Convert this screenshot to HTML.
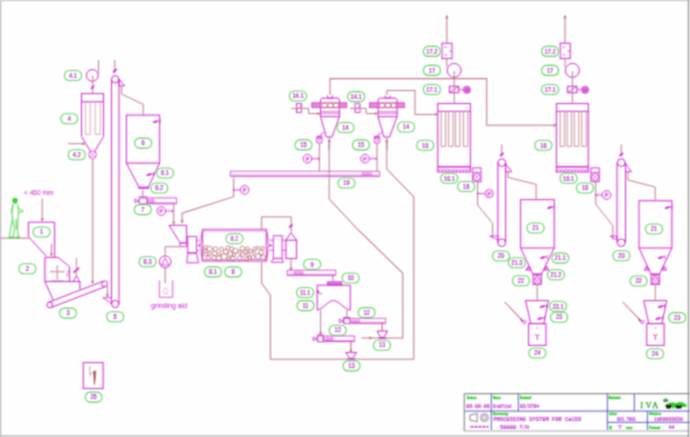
<!DOCTYPE html>
<html><head><meta charset="utf-8"><style>
html,body{margin:0;padding:0;background:#fff;}
svg{display:block;}
</style></head><body>
<svg width="690" height="437" viewBox="0 0 690 437">
<defs><filter id="bl" x="0" y="0" width="690" height="437" filterUnits="userSpaceOnUse"><feConvolveMatrix order="3" kernelMatrix="1 2 1 2 4 2 1 2 1" divisor="16" edgeMode="none"/></filter></defs>
<rect x="0" y="0" width="690" height="437" fill="#fefefe"/>
<g filter="url(#bl)">
<line x1="0.5" y1="0" x2="0.5" y2="437" stroke="#a8a8a8" stroke-width="1.2"/>
<line x1="0" y1="0.5" x2="690" y2="0.5" stroke="#b8b8b8" stroke-width="1.2"/>
<line x1="0" y1="436" x2="690" y2="436" stroke="#989898" stroke-width="1.1"/>
<line x1="688.5" y1="0" x2="688.5" y2="437" stroke="#8a8a8a" stroke-width="1.2"/>
<circle cx="92.3" cy="75.4" r="5.9" stroke="#d020d0" stroke-width="1" fill="none"/>
<line x1="98.5" y1="60.1" x2="98.5" y2="73" stroke="#c07888" stroke-width="1"/>
<line x1="92.8" y1="75.6" x2="92.8" y2="93.6" stroke="#c07888" stroke-width="1"/>
<path d="M91.2 89 l2.8 -3.5" stroke="#d020d0" stroke-width="1.6"/>
<rect x="81.5" y="93.6" width="22" height="8.2" stroke="#d020d0" stroke-width="1" fill="none"/>
<line x1="81.5" y1="101.8" x2="81.5" y2="136.5" stroke="#d020d0" stroke-width="1"/>
<line x1="103.5" y1="101.8" x2="103.5" y2="136.5" stroke="#d020d0" stroke-width="1"/>
<line x1="85.6" y1="101.5" x2="85.6" y2="134.4" stroke="#c07888" stroke-width="0.6"/>
<line x1="90.2" y1="101.5" x2="90.2" y2="134.4" stroke="#c07888" stroke-width="0.6"/>
<line x1="95.2" y1="101.5" x2="95.2" y2="134.4" stroke="#c07888" stroke-width="0.6"/>
<line x1="100.3" y1="101.5" x2="100.3" y2="134.4" stroke="#c07888" stroke-width="0.6"/>
<line x1="85.6" y1="134.4" x2="90.2" y2="134.4" stroke="#c07888" stroke-width="0.6"/>
<line x1="95.2" y1="134.4" x2="100.3" y2="134.4" stroke="#c07888" stroke-width="0.6"/>
<polyline points="81.5,136.5 90.6,151.5" stroke="#d020d0" stroke-width="1" fill="none"/>
<polyline points="103.5,136.5 94.6,151.5" stroke="#d020d0" stroke-width="1" fill="none"/>
<line x1="68.2" y1="143.7" x2="84.5" y2="143.7" stroke="#c07888" stroke-width="1"/>
<polygon points="82.5,142.5 82.5,144.89999999999998 85,143.7" stroke="#c07888" stroke-width="0.6" fill="#c07888"/>
<circle cx="92.6" cy="154.6" r="3.8" stroke="#d020d0" stroke-width="0.8" fill="none"/>
<line x1="89.86399999999999" y1="151.864" x2="95.336" y2="157.33599999999998" stroke="#d020d0" stroke-width="0.55"/>
<line x1="89.86399999999999" y1="157.33599999999998" x2="95.336" y2="151.864" stroke="#d020d0" stroke-width="0.55"/>
<line x1="92.7" y1="158.5" x2="92.7" y2="283.5" stroke="#c07888" stroke-width="1.05"/>
<polygon points="91.5,281.0 93.9,281.0 92.7,283.5" stroke="#c07888" stroke-width="0.6" fill="#c07888"/>
<rect x="64.50" y="70.50" width="17" height="10" rx="4.8" ry="4.8" stroke="#60d060" stroke-width="1.1" fill="none"/>
<text x="73" y="77.80" font-size="6.4" fill="#a018b0" stroke="#a018b0" stroke-width="0.14" text-anchor="middle" font-family="Liberation Sans" transform="translate(73 0) scale(0.9 1) translate(-73 0)">4.1</text>
<rect x="60.80" y="113.80" width="17" height="10" rx="4.8" ry="4.8" stroke="#60d060" stroke-width="1.1" fill="none"/>
<text x="69.3" y="121.10" font-size="6.4" fill="#a018b0" stroke="#a018b0" stroke-width="0.14" text-anchor="middle" font-family="Liberation Sans" transform="translate(69.3 0) scale(0.9 1) translate(-69.3 0)">4</text>
<rect x="68.30" y="149.80" width="17" height="10" rx="4.8" ry="4.8" stroke="#60d060" stroke-width="1.1" fill="none"/>
<text x="76.8" y="157.10" font-size="6.4" fill="#a018b0" stroke="#a018b0" stroke-width="0.14" text-anchor="middle" font-family="Liberation Sans" transform="translate(76.8 0) scale(0.9 1) translate(-76.8 0)">4.2</text>
<line x1="111.5" y1="79.3" x2="111.5" y2="304" stroke="#d020d0" stroke-width="1"/>
<line x1="119" y1="79.3" x2="119" y2="304" stroke="#d020d0" stroke-width="1"/>
<circle cx="115.2" cy="79.3" r="3.7" stroke="#d020d0" stroke-width="1" fill="none"/>
<circle cx="115.2" cy="304" r="3.6" stroke="#d020d0" stroke-width="1" fill="none"/>
<line x1="114.8" y1="60" x2="114.8" y2="73" stroke="#c07888" stroke-width="1"/>
<path d="M113.2 72.4 l3.4 -3.4" stroke="#d020d0" stroke-width="1.8"/>
<polygon points="119,79 124.7,85.9 119,85.9" stroke="#d020d0" stroke-width="0.9" fill="none"/>
<polyline points="121.6,85.9 121.6,94.1 143.2,104.4 143.2,114.7" stroke="#c07888" stroke-width="1" fill="none"/>
<polyline points="102.8,297.6 111.5,297.6" stroke="#d020d0" stroke-width="0.8" fill="none"/>
<line x1="102.8" y1="297.6" x2="111.5" y2="304" stroke="#d020d0" stroke-width="0.8"/>
<line x1="107.4" y1="285.5" x2="107.4" y2="297" stroke="#c07888" stroke-width="1"/>
<polygon points="106.2,294.5 108.60000000000001,294.5 107.4,297" stroke="#c07888" stroke-width="0.6" fill="#c07888"/>
<rect x="106.70" y="311.80" width="17" height="10" rx="4.8" ry="4.8" stroke="#60d060" stroke-width="1.1" fill="none"/>
<text x="115.2" y="319.10" font-size="6.4" fill="#a018b0" stroke="#a018b0" stroke-width="0.14" text-anchor="middle" font-family="Liberation Sans" transform="translate(115.2 0) scale(0.9 1) translate(-115.2 0)">5</text>
<rect x="126.4" y="115.1" width="33.2" height="48" stroke="#d020d0" stroke-width="1" fill="none"/>
<polyline points="126.4,163.1 139.3,187.8 148,187.8 159.6,163.1" stroke="#d020d0" stroke-width="1" fill="none"/>
<path d="M154 122.19999999999999 L157 121.19999999999999" stroke="#d020d0" stroke-width="1.9" stroke-linecap="round"/>
<path d="M157 121.19999999999999 H160 M160 119.0 V123.39999999999999" stroke="#d020d0" stroke-width="0.7" fill="none"/>
<path d="M147.5 175.1 L150.5 174.1" stroke="#d020d0" stroke-width="1.9" stroke-linecap="round"/>
<path d="M150.5 174.1 H153.5 M153.5 171.9 V176.3" stroke="#d020d0" stroke-width="0.7" fill="none"/>
<rect x="138.8" y="187" width="10" height="1.4" stroke="#d020d0" stroke-width="0.7" fill="none"/>
<line x1="142.8" y1="189.4" x2="142.8" y2="198.7" stroke="#c07888" stroke-width="1"/>
<rect x="134.70" y="138.10" width="17" height="10" rx="4.8" ry="4.8" stroke="#60d060" stroke-width="1.1" fill="none"/>
<text x="143.2" y="145.40" font-size="6.4" fill="#a018b0" stroke="#a018b0" stroke-width="0.14" text-anchor="middle" font-family="Liberation Sans" transform="translate(143.2 0) scale(0.9 1) translate(-143.2 0)">6</text>
<rect x="156.50" y="168.00" width="17" height="10" rx="4.8" ry="4.8" stroke="#60d060" stroke-width="1.1" fill="none"/>
<text x="165" y="175.30" font-size="6.4" fill="#a018b0" stroke="#a018b0" stroke-width="0.14" text-anchor="middle" font-family="Liberation Sans" transform="translate(165 0) scale(0.9 1) translate(-165 0)">6.1</text>
<rect x="150.80" y="183.00" width="17" height="10" rx="4.8" ry="4.8" stroke="#60d060" stroke-width="1.1" fill="none"/>
<text x="159.3" y="190.30" font-size="6.4" fill="#a018b0" stroke="#a018b0" stroke-width="0.14" text-anchor="middle" font-family="Liberation Sans" transform="translate(159.3 0) scale(0.9 1) translate(-159.3 0)">6.2</text>
<rect x="139.4" y="198" width="37.0" height="5.900000000000006" stroke="#d020d0" stroke-width="0.9" fill="#fefefe"/>
<rect x="139.4" y="197" width="7.3" height="6.900000000000006" stroke="#d020d0" stroke-width="0.9" fill="none"/>
<path d="M146.7 203.1 L148.0 199 L149.3 203.1 L150.6 199 L151.9 203.1 L153.2 199 L154.5 203.1" stroke="#d020d0" stroke-width="0.6" fill="none"/>
<line x1="147.70000000000002" y1="202.70000000000002" x2="175.4" y2="202.70000000000002" stroke="#d020d0" stroke-width="0.6"/>
<polygon points="134.9,199.14999999999998 138.9,200.95 134.9,202.75" stroke="#d020d0" stroke-width="0.8" fill="none"/>
<line x1="173.7" y1="204.3" x2="173.7" y2="224.4" stroke="#c07888" stroke-width="1"/>
<polygon points="172.5,221.9 174.89999999999998,221.9 173.7,224.4" stroke="#c07888" stroke-width="0.6" fill="#c07888"/>
<circle cx="161.3" cy="211" r="4.3" stroke="#d020d0" stroke-width="0.9" fill="none"/>
<text x="161.3" y="213.10" font-size="6" fill="#d020d0" stroke="#d020d0" stroke-width="0.2" text-anchor="middle" font-family="Liberation Sans">P</text>
<line x1="165.60000000000002" y1="211" x2="172.60000000000002" y2="211" stroke="#d020d0" stroke-width="0.8"/>
<line x1="172.60000000000002" y1="209.5" x2="172.60000000000002" y2="212.5" stroke="#d020d0" stroke-width="0.8"/>
<rect x="134.30" y="204.60" width="17" height="10" rx="4.8" ry="4.8" stroke="#60d060" stroke-width="1.1" fill="none"/>
<text x="142.8" y="211.90" font-size="6.4" fill="#a018b0" stroke="#a018b0" stroke-width="0.14" text-anchor="middle" font-family="Liberation Sans" transform="translate(142.8 0) scale(0.9 1) translate(-142.8 0)">7</text>
<polyline points="28.4,236.6 28.4,222.2 54.6,222.2 54.6,257.3" stroke="#d020d0" stroke-width="1" fill="none"/>
<polyline points="28.4,236.6 46.3,256.2" stroke="#d020d0" stroke-width="1" fill="none"/>
<line x1="42.2" y1="198.5" x2="42.2" y2="221" stroke="#c07888" stroke-width="1"/>
<polygon points="41.0,218.5 43.400000000000006,218.5 42.2,221" stroke="#c07888" stroke-width="0.6" fill="#c07888"/>
<text x="24" y="194.6" font-size="6.4" fill="#d020d0" text-anchor="start" font-family="Liberation Sans" textLength="29.5" lengthAdjust="spacingAndGlyphs">&lt; 460 mm</text>
<line x1="0" y1="238.1" x2="29.9" y2="238.1" stroke="#c07888" stroke-width="1.05"/>
<line x1="51.5" y1="243.8" x2="51.5" y2="256.2" stroke="#c07888" stroke-width="1"/>
<polygon points="50.3,253.7 52.7,253.7 51.5,256.2" stroke="#c07888" stroke-width="0.6" fill="#c07888"/>
<rect x="33.10" y="227.00" width="17" height="10" rx="4.8" ry="4.8" stroke="#60d060" stroke-width="1.1" fill="none"/>
<text x="41.6" y="234.30" font-size="6.4" fill="#a018b0" stroke="#a018b0" stroke-width="0.14" text-anchor="middle" font-family="Liberation Sans" transform="translate(41.6 0) scale(0.9 1) translate(-41.6 0)">1</text>
<polyline points="44.9,281.5 44.9,257.4 58.2,257.4 69.5,266.8 69.5,281.5" stroke="#d020d0" stroke-width="1" fill="none"/>
<line x1="44.9" y1="281.5" x2="79.9" y2="281.5" stroke="#d020d0" stroke-width="1"/>
<line x1="79.9" y1="281.5" x2="79.9" y2="289.4" stroke="#d020d0" stroke-width="1"/>
<line x1="44.9" y1="281.5" x2="53.4" y2="300.3" stroke="#d020d0" stroke-width="1"/>
<line x1="50.8" y1="271.7" x2="63.6" y2="271.7" stroke="#c07888" stroke-width="0.9"/>
<line x1="57.2" y1="266.3" x2="57.2" y2="278.6" stroke="#c07888" stroke-width="0.9"/>
<path d="M50.8 270.5 v2.4 M63.6 270.5 v2.4 M56 266.3 h2.4 M56 278.6 h2.4" stroke="#c07888" stroke-width="0.6"/>
<path d="M68.4 270.5 q-1.2 3 -1.4 6" stroke="#d020d0" stroke-width="0.7" fill="none"/>
<path d="M50 281 q7 -1.5 14 0" stroke="#c07888" stroke-width="0.6" fill="none"/>
<polyline points="73.3,281.5 76.4,275.6 79.6,281.5" stroke="#d020d0" stroke-width="0.9" fill="none"/>
<line x1="76.4" y1="257.9" x2="76.4" y2="275.6" stroke="#c07888" stroke-width="0.9"/>
<path d="M73.6 272.6 l5.6 -5" stroke="#d020d0" stroke-width="1.5"/>
<rect x="18.90" y="263.80" width="17" height="10" rx="4.8" ry="4.8" stroke="#60d060" stroke-width="1.1" fill="none"/>
<text x="27.4" y="271.10" font-size="6.4" fill="#a018b0" stroke="#a018b0" stroke-width="0.14" text-anchor="middle" font-family="Liberation Sans" transform="translate(27.4 0) scale(0.9 1) translate(-27.4 0)">2</text>
<circle cx="49.8" cy="304.9" r="2.9" stroke="#d020d0" stroke-width="1" fill="none"/>
<circle cx="104.6" cy="283.8" r="2.9" stroke="#d020d0" stroke-width="1" fill="none"/>
<line x1="50.84203205935858" y1="307.6063202299929" x2="105.64203205935858" y2="286.5063202299929" stroke="#d020d0" stroke-width="1"/>
<line x1="48.757967940641414" y1="302.19367977000707" x2="103.5579679406414" y2="281.0936797700071" stroke="#d020d0" stroke-width="1"/>
<rect x="59.50" y="308.10" width="17" height="10" rx="4.8" ry="4.8" stroke="#60d060" stroke-width="1.1" fill="none"/>
<text x="68" y="315.40" font-size="6.4" fill="#a018b0" stroke="#a018b0" stroke-width="0.14" text-anchor="middle" font-family="Liberation Sans" transform="translate(68 0) scale(0.9 1) translate(-68 0)">3</text>
<ellipse cx="15" cy="200.8" rx="2.4" ry="2.7" fill="#40d040" stroke="#40d040" stroke-width="0.6"/>
<path d="M12.6 199.3 h5" stroke="#40d040" stroke-width="1.2"/>
<path d="M13 204 L12 211 L12.5 219 L10.5 229 L9.5 237.5 M17.5 204 L18.6 210 L18 219 L17.5 229 L18.5 237.5 M12.5 219 L14.5 229 L13.2 237.5 M16 219 L16.2 229 M13 205 L11 213 M17.5 207.5 L21.5 210 L23.3 211.4 L18.6 212.5" stroke="#40d040" stroke-width="0.9" fill="none"/>
<path d="M8.5 237.6 h5.5 M15 237.6 h5" stroke="#40d040" stroke-width="1.5"/>
<rect x="83.3" y="362.6" width="19.8" height="26" stroke="#d020d0" stroke-width="1" fill="none"/>
<path d="M89.9 366 V375 L94.5 371" stroke="#c07888" stroke-width="0.7" fill="none"/>
<path d="M93.6 371.5 L95.8 371 L95.3 378 L94.6 384.5 L94.2 384.5 Z" fill="#a84848" stroke="#b05050" stroke-width="0.5"/>
<rect x="85.30" y="392.10" width="16.6" height="10" rx="4.8" ry="4.8" stroke="#60d060" stroke-width="1.1" fill="none"/>
<text x="93.6" y="399.40" font-size="6.4" fill="#a018b0" stroke="#a018b0" stroke-width="0.14" text-anchor="middle" font-family="Liberation Sans" transform="translate(93.6 0) scale(0.9 1) translate(-93.6 0)">25</text>
<polyline points="169,225.3 186.6,225.3 186.6,243 180.3,243 169,225.3" stroke="#d020d0" stroke-width="1" fill="none"/>
<rect x="180" y="243" width="6.6" height="3.7" stroke="#d020d0" stroke-width="0.8" fill="none"/>
<polygon points="180.9,220.5 183.29999999999998,220.5 182.1,223" stroke="#c07888" stroke-width="0.6" fill="#c07888"/>
<circle cx="165.2" cy="261.8" r="5.8" stroke="#d020d0" stroke-width="1" fill="none"/>
<polygon points="161.5,265 165.2,258 168.9,265" stroke="#d020d0" stroke-width="0.8" fill="none"/>
<polyline points="165.2,256.6 165.2,246.7 180,246.7" stroke="#c07888" stroke-width="1" fill="none"/>
<line x1="165.2" y1="267.2" x2="165.2" y2="283" stroke="#c07888" stroke-width="1.1"/>
<polyline points="159.4,280.3 159.4,297.3 172.6,297.3 172.6,280.3" stroke="#d020d0" stroke-width="0.7" fill="none"/>
<path d="M164 288.5 h3 M162 291 h2.5 M166 291 h2.5 M163.5 293.7 h4.5" stroke="#c07888" stroke-width="0.6"/>
<text x="151" y="307.5" font-size="6.6" fill="#d020d0" text-anchor="start" font-family="Liberation Sans" textLength="36" lengthAdjust="spacingAndGlyphs">grinding aid</text>
<rect x="139.10" y="256.80" width="17" height="10" rx="4.8" ry="4.8" stroke="#60d060" stroke-width="1.1" fill="none"/>
<text x="147.6" y="264.10" font-size="6.4" fill="#a018b0" stroke="#a018b0" stroke-width="0.14" text-anchor="middle" font-family="Liberation Sans" transform="translate(147.6 0) scale(0.9 1) translate(-147.6 0)">8.3</text>
<rect x="187.8" y="236.4" width="8.7" height="16.6" stroke="#d020d0" stroke-width="0.9" fill="none"/>
<polygon points="187.8,253 196.5,253 198.5,262.8 186.8,262.8" stroke="#d020d0" stroke-width="0.9" fill="none"/>
<line x1="196.5" y1="240.2" x2="199.5" y2="240.2" stroke="#d020d0" stroke-width="0.8"/>
<line x1="196.5" y1="250.3" x2="199.5" y2="250.3" stroke="#d020d0" stroke-width="0.8"/>
<path d="M202.7 229.3 H266.3 Q270.3 245.2 266.3 261.2 H202.7 Q198.7 245.2 202.7 229.3 Z" stroke="#d020d0" stroke-width="0.9" fill="#fefefe"/>
<line x1="202.7" y1="229.3" x2="202.7" y2="261.2" stroke="#d020d0" stroke-width="1.1"/>
<line x1="266.3" y1="229.3" x2="266.3" y2="261.2" stroke="#d020d0" stroke-width="1.1"/>
<line x1="203" y1="231" x2="266" y2="231" stroke="#d020d0" stroke-width="0.6"/>
<line x1="203" y1="259.8" x2="266" y2="259.8" stroke="#d020d0" stroke-width="0.6"/>
<line x1="198" y1="245.4" x2="200.5" y2="245.4" stroke="#d020d0" stroke-width="1.5"/>
<line x1="269" y1="245.4" x2="272" y2="245.4" stroke="#d020d0" stroke-width="1.5"/>
<circle cx="261.2" cy="252.3" r="2.3" stroke="#b86470" stroke-width="0.85" fill="none"/>
<circle cx="209.5" cy="254.0" r="1.7" stroke="#b86470" stroke-width="0.85" fill="none"/>
<circle cx="239.8" cy="258.2" r="2.3" stroke="#b86470" stroke-width="0.85" fill="none"/>
<circle cx="219.5" cy="254.1" r="1.7" stroke="#b86470" stroke-width="0.85" fill="none"/>
<circle cx="254.5" cy="248.8" r="1.7" stroke="#b86470" stroke-width="0.85" fill="none"/>
<circle cx="242.7" cy="254.5" r="2.0" stroke="#b86470" stroke-width="0.85" fill="none"/>
<circle cx="239.6" cy="252.2" r="1.7" stroke="#b86470" stroke-width="0.85" fill="none"/>
<circle cx="208.2" cy="257.8" r="2.0" stroke="#b86470" stroke-width="0.85" fill="none"/>
<circle cx="230.3" cy="254.0" r="2.3" stroke="#b86470" stroke-width="0.85" fill="none"/>
<circle cx="224.1" cy="256.7" r="3.0" stroke="#b86470" stroke-width="0.85" fill="none"/>
<circle cx="233.0" cy="258.3" r="2.3" stroke="#b86470" stroke-width="0.85" fill="none"/>
<circle cx="214.7" cy="253.4" r="2.3" stroke="#b86470" stroke-width="0.85" fill="none"/>
<circle cx="262.5" cy="248.2" r="1.7" stroke="#b86470" stroke-width="0.85" fill="none"/>
<circle cx="225.7" cy="251.8" r="2.3" stroke="#b86470" stroke-width="0.85" fill="none"/>
<circle cx="215.6" cy="249.1" r="2.3" stroke="#b86470" stroke-width="0.85" fill="none"/>
<circle cx="234.1" cy="254.6" r="1.7" stroke="#b86470" stroke-width="0.85" fill="none"/>
<circle cx="258.1" cy="256.5" r="2.6" stroke="#b86470" stroke-width="0.85" fill="none"/>
<circle cx="209.7" cy="248.8" r="2.6" stroke="#b86470" stroke-width="0.85" fill="none"/>
<circle cx="231.5" cy="248.8" r="2.0" stroke="#b86470" stroke-width="0.85" fill="none"/>
<circle cx="250.4" cy="251.0" r="1.7" stroke="#b86470" stroke-width="0.85" fill="none"/>
<circle cx="253.1" cy="257.3" r="2.0" stroke="#b86470" stroke-width="0.85" fill="none"/>
<circle cx="246.4" cy="259.0" r="2.0" stroke="#b86470" stroke-width="0.85" fill="none"/>
<circle cx="257.8" cy="247.9" r="1.7" stroke="#b86470" stroke-width="0.85" fill="none"/>
<circle cx="235.4" cy="250.8" r="2.6" stroke="#b86470" stroke-width="0.85" fill="none"/>
<circle cx="214.1" cy="257.9" r="2.3" stroke="#b86470" stroke-width="0.85" fill="none"/>
<circle cx="218.8" cy="258.4" r="2.6" stroke="#b86470" stroke-width="0.85" fill="none"/>
<circle cx="221.5" cy="249.1" r="2.0" stroke="#b86470" stroke-width="0.85" fill="none"/>
<circle cx="242.1" cy="248.3" r="2.3" stroke="#b86470" stroke-width="0.85" fill="none"/>
<circle cx="263.1" cy="257.3" r="2.3" stroke="#b86470" stroke-width="0.85" fill="none"/>
<circle cx="228.5" cy="258.9" r="1.7" stroke="#b86470" stroke-width="0.85" fill="none"/>
<circle cx="248.2" cy="254.7" r="1.7" stroke="#b86470" stroke-width="0.85" fill="none"/>
<circle cx="254.0" cy="252.4" r="1.7" stroke="#b86470" stroke-width="0.85" fill="none"/>
<circle cx="205.9" cy="254.1" r="1.7" stroke="#b86470" stroke-width="0.85" fill="none"/>
<circle cx="205.9" cy="247.4" r="1.7" stroke="#b86470" stroke-width="0.85" fill="none"/>
<circle cx="227.8" cy="247.8" r="2.0" stroke="#b86470" stroke-width="0.85" fill="none"/>
<circle cx="247.3" cy="248.3" r="1.7" stroke="#b86470" stroke-width="0.85" fill="none"/>
<circle cx="245.8" cy="251.8" r="1.7" stroke="#b86470" stroke-width="0.85" fill="none"/>
<circle cx="249.5" cy="257.5" r="1.7" stroke="#b86470" stroke-width="0.85" fill="none"/>
<circle cx="205.5" cy="250.5" r="1.7" stroke="#b86470" stroke-width="0.85" fill="none"/>
<rect x="273.3" y="235.8" width="8.8" height="22.7" stroke="#d020d0" stroke-width="0.9" fill="none"/>
<polygon points="273.3,258.5 282.1,258.5 283.3,262.3 271.4,262.3" stroke="#d020d0" stroke-width="0.9" fill="none"/>
<line x1="269.5" y1="240.2" x2="273.3" y2="240.2" stroke="#d020d0" stroke-width="0.8"/>
<line x1="269.5" y1="250.3" x2="273.3" y2="250.3" stroke="#d020d0" stroke-width="0.8"/>
<line x1="282.1" y1="240.2" x2="285.9" y2="240.2" stroke="#d020d0" stroke-width="0.8"/>
<line x1="282.1" y1="250.3" x2="285.9" y2="250.3" stroke="#d020d0" stroke-width="0.8"/>
<rect x="226.00" y="233.60" width="17" height="10" rx="4.8" ry="4.8" stroke="#60d060" stroke-width="1.1" fill="none"/>
<text x="234.5" y="240.90" font-size="6.4" fill="#a018b0" stroke="#a018b0" stroke-width="0.14" text-anchor="middle" font-family="Liberation Sans" transform="translate(234.5 0) scale(0.9 1) translate(-234.5 0)">8.2</text>
<rect x="204.50" y="266.90" width="17" height="10" rx="4.8" ry="4.8" stroke="#60d060" stroke-width="1.1" fill="none"/>
<text x="213" y="274.20" font-size="6.4" fill="#a018b0" stroke="#a018b0" stroke-width="0.14" text-anchor="middle" font-family="Liberation Sans" transform="translate(213 0) scale(0.9 1) translate(-213 0)">8.1</text>
<rect x="224.70" y="266.90" width="17" height="10" rx="4.8" ry="4.8" stroke="#60d060" stroke-width="1.1" fill="none"/>
<text x="233.2" y="274.20" font-size="6.4" fill="#a018b0" stroke="#a018b0" stroke-width="0.14" text-anchor="middle" font-family="Liberation Sans" transform="translate(233.2 0) scale(0.9 1) translate(-233.2 0)">8</text>
<polyline points="285.9,240.2 290.9,232.7 296.6,240.2" stroke="#d020d0" stroke-width="1" fill="none"/>
<rect x="285.9" y="240.2" width="10.7" height="18.3" stroke="#d020d0" stroke-width="1" fill="none"/>
<polyline points="261.6,229 261.6,216.9 291.2,216.9 291.2,232" stroke="#c07888" stroke-width="1" fill="none"/>
<line x1="261.6" y1="262" x2="261.6" y2="283" stroke="#c07888" stroke-width="1"/>
<path d="M289.2 227.6 l3.4 -3.2" stroke="#d020d0" stroke-width="1.7"/>
<line x1="291" y1="258" x2="291" y2="270" stroke="#c07888" stroke-width="1"/>
<polygon points="289.8,267.7 292.2,267.7 291,270.2" stroke="#c07888" stroke-width="0.6" fill="#c07888"/>
<polyline points="261.6,283 270.4,295.3 270.4,359.3 413.8,359.3 413.8,197 386.8,169" stroke="#c07888" stroke-width="1.05" fill="none"/>
<rect x="230.5" y="171.4" width="149.0" height="4.900000000000006" stroke="#d020d0" stroke-width="0.9" fill="#fefefe"/>
<path d="M361.7 175.5 L363.0 172.4 L364.3 175.5 L365.6 172.4 L366.9 175.5 L368.2 172.4 L369.5 175.5 L370.8 172.4 L372.1 175.5" stroke="#d020d0" stroke-width="0.6" fill="none"/>
<line x1="231.5" y1="175.10000000000002" x2="378.5" y2="175.10000000000002" stroke="#d020d0" stroke-width="0.6"/>
<polyline points="233.6,177.5 233.6,196.7 182.1,213.2 182.1,222.8" stroke="#c07888" stroke-width="1.05" fill="none"/>
<circle cx="244.6" cy="189.9" r="4.3" stroke="#d020d0" stroke-width="0.9" fill="none"/>
<text x="244.6" y="192.00" font-size="6" fill="#d020d0" stroke="#d020d0" stroke-width="0.2" text-anchor="middle" font-family="Liberation Sans">P</text>
<line x1="240.29999999999998" y1="189.9" x2="233.79999999999998" y2="189.9" stroke="#d020d0" stroke-width="0.8"/>
<line x1="233.79999999999998" y1="188.4" x2="233.79999999999998" y2="191.4" stroke="#d020d0" stroke-width="0.8"/>
<rect x="338.00" y="178.00" width="17" height="10" rx="4.8" ry="4.8" stroke="#60d060" stroke-width="1.1" fill="none"/>
<text x="346.5" y="185.30" font-size="6.4" fill="#a018b0" stroke="#a018b0" stroke-width="0.14" text-anchor="middle" font-family="Liberation Sans" transform="translate(346.5 0) scale(0.9 1) translate(-346.5 0)">19</text>
<path d="M327.5 95.2 v2.9 M332.5 95.2 v2.9 M327.5 98.1 h5" stroke="#d020d0" stroke-width="0.8" fill="none"/>
<path d="M320.5 116.6 V100 L322 98.1 H338 L339.5 100 V116.6 Z" stroke="#d020d0" stroke-width="1" fill="none"/>
<line x1="320.5" y1="111.8" x2="339.5" y2="111.8" stroke="#d020d0" stroke-width="0.8"/>
<line x1="320.5" y1="113.6" x2="339.5" y2="113.6" stroke="#d020d0" stroke-width="0.6"/>
<rect x="312" y="102.9" width="34.7" height="4.7" stroke="#d020d0" stroke-width="0.9" fill="none"/>
<rect x="312" y="102.9" width="8.5" height="4.7" stroke="#d040c8" stroke-width="0.6" fill="#e488d8"/>
<rect x="339.3" y="102.9" width="7.4" height="4.7" stroke="#d040c8" stroke-width="0.6" fill="#e488d8"/>
<circle cx="324.5" cy="105.3" r="2.6" stroke="#c87070" stroke-width="0.9" fill="none"/>
<circle cx="330.5" cy="105.3" r="2.6" stroke="#c87070" stroke-width="0.9" fill="none"/>
<circle cx="336" cy="105.3" r="2.6" stroke="#c87070" stroke-width="0.9" fill="none"/>
<polyline points="320.5,116.6 326.3,137 332,137 339.5,116.6" stroke="#d020d0" stroke-width="1" fill="none"/>
<line x1="329.2" y1="137" x2="329.2" y2="150" stroke="#c07888" stroke-width="1"/>
<polygon points="328.0,142.0 330.4,142.0 329.2,139.5" stroke="#c07888" stroke-width="0.6" fill="#c07888"/>
<line x1="324" y1="132.4" x2="318.5" y2="136.6" stroke="#d020d0" stroke-width="0.9"/>
<rect x="317" y="136.2" width="4.9" height="1.7" stroke="#d020d0" stroke-width="0.7" fill="none"/>
<circle cx="319.4" cy="140.5" r="3.1" stroke="#d020d0" stroke-width="0.8" fill="none"/>
<line x1="317.16799999999995" y1="138.268" x2="321.632" y2="142.732" stroke="#d020d0" stroke-width="0.55"/>
<line x1="317.16799999999995" y1="142.732" x2="321.632" y2="138.268" stroke="#d020d0" stroke-width="0.55"/>
<line x1="319.4" y1="143.6" x2="319.4" y2="171.4" stroke="#c07888" stroke-width="1"/>
<circle cx="307.4" cy="158.7" r="4.3" stroke="#d020d0" stroke-width="0.9" fill="none"/>
<text x="307.4" y="160.80" font-size="6" fill="#d020d0" stroke="#d020d0" stroke-width="0.2" text-anchor="middle" font-family="Liberation Sans">P</text>
<line x1="311.7" y1="158.7" x2="318.7" y2="158.7" stroke="#d020d0" stroke-width="0.8"/>
<line x1="318.7" y1="157.2" x2="318.7" y2="160.2" stroke="#d020d0" stroke-width="0.8"/>
<rect x="296.5" y="103.5" width="5" height="9" stroke="#d020d0" stroke-width="0.9" fill="none"/>
<line x1="297.0" y1="110" x2="301.0" y2="106" stroke="#d020d0" stroke-width="0.8"/>
<path d="M385.1 95.2 v2.9 M390.1 95.2 v2.9 M385.1 98.1 h5" stroke="#d020d0" stroke-width="0.8" fill="none"/>
<path d="M378.1 116.6 V100 L379.6 98.1 H395.6 L397.1 100 V116.6 Z" stroke="#d020d0" stroke-width="1" fill="none"/>
<line x1="378.1" y1="111.8" x2="397.1" y2="111.8" stroke="#d020d0" stroke-width="0.8"/>
<line x1="378.1" y1="113.6" x2="397.1" y2="113.6" stroke="#d020d0" stroke-width="0.6"/>
<rect x="369.6" y="102.9" width="34.7" height="4.7" stroke="#d020d0" stroke-width="0.9" fill="none"/>
<rect x="369.6" y="102.9" width="8.5" height="4.7" stroke="#d040c8" stroke-width="0.6" fill="#e488d8"/>
<rect x="396.90000000000003" y="102.9" width="7.4" height="4.7" stroke="#d040c8" stroke-width="0.6" fill="#e488d8"/>
<circle cx="382.1" cy="105.3" r="2.6" stroke="#c87070" stroke-width="0.9" fill="none"/>
<circle cx="388.1" cy="105.3" r="2.6" stroke="#c87070" stroke-width="0.9" fill="none"/>
<circle cx="393.6" cy="105.3" r="2.6" stroke="#c87070" stroke-width="0.9" fill="none"/>
<polyline points="378.1,116.6 383.90000000000003,137 389.6,137 397.1,116.6" stroke="#d020d0" stroke-width="1" fill="none"/>
<line x1="386.8" y1="137" x2="386.8" y2="150" stroke="#c07888" stroke-width="1"/>
<polygon points="385.6,142.0 388.0,142.0 386.8,139.5" stroke="#c07888" stroke-width="0.6" fill="#c07888"/>
<line x1="381.6" y1="132.4" x2="376.1" y2="136.6" stroke="#d020d0" stroke-width="0.9"/>
<rect x="374.6" y="136.2" width="4.9" height="1.7" stroke="#d020d0" stroke-width="0.7" fill="none"/>
<circle cx="377.0" cy="140.5" r="3.1" stroke="#d020d0" stroke-width="0.8" fill="none"/>
<line x1="374.768" y1="138.268" x2="379.232" y2="142.732" stroke="#d020d0" stroke-width="0.55"/>
<line x1="374.768" y1="142.732" x2="379.232" y2="138.268" stroke="#d020d0" stroke-width="0.55"/>
<line x1="377.0" y1="143.6" x2="377.0" y2="171.4" stroke="#c07888" stroke-width="1"/>
<circle cx="365.0" cy="158.7" r="4.3" stroke="#d020d0" stroke-width="0.9" fill="none"/>
<text x="365.0" y="160.80" font-size="6" fill="#d020d0" stroke="#d020d0" stroke-width="0.2" text-anchor="middle" font-family="Liberation Sans">P</text>
<line x1="369.3" y1="158.7" x2="376.3" y2="158.7" stroke="#d020d0" stroke-width="0.8"/>
<line x1="376.3" y1="157.2" x2="376.3" y2="160.2" stroke="#d020d0" stroke-width="0.8"/>
<rect x="355" y="103.5" width="5" height="9" stroke="#d020d0" stroke-width="0.9" fill="none"/>
<line x1="355.5" y1="110" x2="359.5" y2="106" stroke="#d020d0" stroke-width="0.8"/>
<polyline points="291.3,108.4 308.6,108.4 308.6,113.6 320,113.6" stroke="#c07888" stroke-width="1" fill="none"/>
<polygon points="317.5,112.39999999999999 317.5,114.8 320,113.6" stroke="#c07888" stroke-width="0.6" fill="#c07888"/>
<polyline points="350,108.4 366.2,108.4 366.2,113.6 377.6,113.6" stroke="#c07888" stroke-width="1" fill="none"/>
<polygon points="375.1,112.39999999999999 375.1,114.8 377.6,113.6" stroke="#c07888" stroke-width="0.6" fill="#c07888"/>
<line x1="329.2" y1="140.4" x2="329.2" y2="199" stroke="#c07888" stroke-width="1"/>
<line x1="386.8" y1="140" x2="386.8" y2="169" stroke="#c07888" stroke-width="1"/>
<polyline points="329.2,199 358.3,230 402.8,273.3 402.8,337.9 361.6,337.9" stroke="#c07888" stroke-width="1.05" fill="none"/>
<polyline points="330,95.2 330,78.6 486.7,78.6 486.7,125.3 556,125.3" stroke="#c07888" stroke-width="1.05" fill="none"/>
<polygon points="553.9,124.1 553.9,126.5 556.4,125.3" stroke="#c07888" stroke-width="0.6" fill="#c07888"/>
<polyline points="387,95 387,90.5 415,90.5 415,114.4 437.8,114.4" stroke="#c07888" stroke-width="1.05" fill="none"/>
<polygon points="435.3,113.2 435.3,115.60000000000001 437.8,114.4" stroke="#c07888" stroke-width="0.6" fill="#c07888"/>
<rect x="289.50" y="91.00" width="17" height="10" rx="4.8" ry="4.8" stroke="#60d060" stroke-width="1.1" fill="none"/>
<text x="298" y="98.30" font-size="6.4" fill="#a018b0" stroke="#a018b0" stroke-width="0.14" text-anchor="middle" font-family="Liberation Sans" transform="translate(298 0) scale(0.9 1) translate(-298 0)">14.1</text>
<rect x="347.70" y="91.60" width="17" height="10" rx="4.8" ry="4.8" stroke="#60d060" stroke-width="1.1" fill="none"/>
<text x="356.2" y="98.90" font-size="6.4" fill="#a018b0" stroke="#a018b0" stroke-width="0.14" text-anchor="middle" font-family="Liberation Sans" transform="translate(356.2 0) scale(0.9 1) translate(-356.2 0)">14.1</text>
<rect x="337.00" y="122.50" width="17" height="10" rx="4.8" ry="4.8" stroke="#60d060" stroke-width="1.1" fill="none"/>
<text x="345.5" y="129.80" font-size="6.4" fill="#a018b0" stroke="#a018b0" stroke-width="0.14" text-anchor="middle" font-family="Liberation Sans" transform="translate(345.5 0) scale(0.9 1) translate(-345.5 0)">14</text>
<rect x="397.50" y="122.00" width="17" height="10" rx="4.8" ry="4.8" stroke="#60d060" stroke-width="1.1" fill="none"/>
<text x="406" y="129.30" font-size="6.4" fill="#a018b0" stroke="#a018b0" stroke-width="0.14" text-anchor="middle" font-family="Liberation Sans" transform="translate(406 0) scale(0.9 1) translate(-406 0)">14</text>
<rect x="295.00" y="139.90" width="17" height="10" rx="4.8" ry="4.8" stroke="#60d060" stroke-width="1.1" fill="none"/>
<text x="303.5" y="147.20" font-size="6.4" fill="#a018b0" stroke="#a018b0" stroke-width="0.14" text-anchor="middle" font-family="Liberation Sans" transform="translate(303.5 0) scale(0.9 1) translate(-303.5 0)">15</text>
<rect x="352.50" y="139.90" width="17" height="10" rx="4.8" ry="4.8" stroke="#60d060" stroke-width="1.1" fill="none"/>
<text x="361" y="147.20" font-size="6.4" fill="#a018b0" stroke="#a018b0" stroke-width="0.14" text-anchor="middle" font-family="Liberation Sans" transform="translate(361 0) scale(0.9 1) translate(-361 0)">15</text>
<rect x="287.3" y="270.3" width="48.30000000000001" height="5.099999999999966" stroke="#d020d0" stroke-width="0.9" fill="#fefefe"/>
<path d="M293.4 274.59999999999997 L294.7 271.3 L296.0 274.59999999999997 L297.3 271.3 L298.6 274.59999999999997 L299.9 271.3 L301.2 274.59999999999997 L302.5 271.3 L303.8 274.59999999999997" stroke="#d020d0" stroke-width="0.6" fill="none"/>
<line x1="288.3" y1="274.2" x2="334.6" y2="274.2" stroke="#d020d0" stroke-width="0.6"/>
<line x1="332.8" y1="275.3" x2="332.8" y2="281.6" stroke="#c07888" stroke-width="1"/>
<rect x="327.4" y="281.8" width="14.4" height="3.4" stroke="#d020d0" stroke-width="0.7" fill="#e070e0"/>
<rect x="303.70" y="259.30" width="17" height="10" rx="4.8" ry="4.8" stroke="#60d060" stroke-width="1.1" fill="none"/>
<text x="312.2" y="266.60" font-size="6.4" fill="#a018b0" stroke="#a018b0" stroke-width="0.14" text-anchor="middle" font-family="Liberation Sans" transform="translate(312.2 0) scale(0.9 1) translate(-312.2 0)">9</text>
<rect x="342.10" y="273.00" width="17" height="10" rx="4.8" ry="4.8" stroke="#60d060" stroke-width="1.1" fill="none"/>
<text x="350.6" y="280.30" font-size="6.4" fill="#a018b0" stroke="#a018b0" stroke-width="0.14" text-anchor="middle" font-family="Liberation Sans" transform="translate(350.6 0) scale(0.9 1) translate(-350.6 0)">10</text>
<path d="M317.2 310 V285.2 H350.3 V310 C345 310 338.8 300.5 333.5 300.5 C328.2 300.5 322 310 317.2 310" stroke="#d020d0" stroke-width="1" fill="none"/>
<path d="M316.3 291.5 h3 M318 290 v3 l4 1" stroke="#d020d0" stroke-width="0.8" fill="none"/>
<rect x="296.60" y="287.50" width="17" height="10" rx="4.8" ry="4.8" stroke="#60d060" stroke-width="1.1" fill="none"/>
<text x="305.1" y="294.80" font-size="6.4" fill="#a018b0" stroke="#a018b0" stroke-width="0.14" text-anchor="middle" font-family="Liberation Sans" transform="translate(305.1 0) scale(0.9 1) translate(-305.1 0)">11.1</text>
<rect x="297.00" y="300.60" width="17" height="10" rx="4.8" ry="4.8" stroke="#60d060" stroke-width="1.1" fill="none"/>
<text x="305.5" y="307.90" font-size="6.4" fill="#a018b0" stroke="#a018b0" stroke-width="0.14" text-anchor="middle" font-family="Liberation Sans" transform="translate(305.5 0) scale(0.9 1) translate(-305.5 0)">11</text>
<line x1="320.6" y1="310" x2="320.6" y2="335" stroke="#c07888" stroke-width="1"/>
<polygon points="319.40000000000003,332.5 321.8,332.5 320.6,335" stroke="#c07888" stroke-width="0.6" fill="#c07888"/>
<line x1="346.9" y1="310" x2="346.9" y2="318.6" stroke="#c07888" stroke-width="1"/>
<rect x="343.8" y="318.6" width="41.599999999999966" height="4.7999999999999545" stroke="#d020d0" stroke-width="0.9" fill="#fefefe"/>
<rect x="343.8" y="317.6" width="5.8" height="5.7999999999999545" stroke="#d020d0" stroke-width="0.9" fill="none"/>
<path d="M349.6 322.59999999999997 L350.9 319.6 L352.2 322.59999999999997 L353.5 319.6 L354.8 322.59999999999997 L356.1 319.6 L357.4 322.59999999999997 L358.7 319.6 L360.0 322.59999999999997" stroke="#d020d0" stroke-width="0.6" fill="none"/>
<line x1="350.6" y1="322.2" x2="384.4" y2="322.2" stroke="#d020d0" stroke-width="0.6"/>
<polygon points="339.3,319.2 343.3,321.0 339.3,322.8" stroke="#d020d0" stroke-width="0.8" fill="none"/>
<line x1="382" y1="323.5" x2="382" y2="331" stroke="#c07888" stroke-width="1.3"/>
<polygon points="377,331 387.5,331 383.8,337.3 380.7,337.3" stroke="#d020d0" stroke-width="1" fill="none"/>
<line x1="378" y1="338.3" x2="386.6" y2="338.3" stroke="#d020d0" stroke-width="1.1"/>
<rect x="358.10" y="307.60" width="17" height="10" rx="4.8" ry="4.8" stroke="#60d060" stroke-width="1.1" fill="none"/>
<text x="366.6" y="314.90" font-size="6.4" fill="#a018b0" stroke="#a018b0" stroke-width="0.14" text-anchor="middle" font-family="Liberation Sans" transform="translate(366.6 0) scale(0.9 1) translate(-366.6 0)">12</text>
<rect x="373.50" y="340.20" width="17" height="10" rx="4.8" ry="4.8" stroke="#60d060" stroke-width="1.1" fill="none"/>
<text x="382" y="347.50" font-size="6.4" fill="#a018b0" stroke="#a018b0" stroke-width="0.14" text-anchor="middle" font-family="Liberation Sans" transform="translate(382 0) scale(0.9 1) translate(-382 0)">13</text>
<rect x="317.7" y="336" width="36.60000000000002" height="5.600000000000023" stroke="#d020d0" stroke-width="0.9" fill="#fefefe"/>
<rect x="317.7" y="335" width="5.2" height="6.600000000000023" stroke="#d020d0" stroke-width="0.9" fill="none"/>
<path d="M322.9 340.8 L324.2 337 L325.5 340.8 L326.8 337 L328.1 340.8 L329.4 337 L330.7 340.8 L332.0 337 L333.3 340.8" stroke="#d020d0" stroke-width="0.6" fill="none"/>
<line x1="323.9" y1="340.40000000000003" x2="353.3" y2="340.40000000000003" stroke="#d020d0" stroke-width="0.6"/>
<polygon points="313.2,337.0 317.2,338.8 313.2,340.6" stroke="#d020d0" stroke-width="0.8" fill="none"/>
<line x1="350.9" y1="341.6" x2="350.9" y2="352.5" stroke="#c07888" stroke-width="1.2"/>
<polygon points="349.7,350.0 352.09999999999997,350.0 350.9,352.5" stroke="#c07888" stroke-width="0.6" fill="#c07888"/>
<polygon points="345.8,352.5 356.6,352.5 352.8,358.3 349.6,358.3" stroke="#d020d0" stroke-width="1" fill="none"/>
<line x1="346.8" y1="359.2" x2="355.6" y2="359.2" stroke="#d020d0" stroke-width="1.1"/>
<rect x="329.20" y="325.20" width="17" height="10" rx="4.8" ry="4.8" stroke="#60d060" stroke-width="1.1" fill="none"/>
<text x="337.7" y="332.50" font-size="6.4" fill="#a018b0" stroke="#a018b0" stroke-width="0.14" text-anchor="middle" font-family="Liberation Sans" transform="translate(337.7 0) scale(0.9 1) translate(-337.7 0)">12</text>
<rect x="343.00" y="360.90" width="17" height="10" rx="4.8" ry="4.8" stroke="#60d060" stroke-width="1.1" fill="none"/>
<text x="351.5" y="368.20" font-size="6.4" fill="#a018b0" stroke="#a018b0" stroke-width="0.14" text-anchor="middle" font-family="Liberation Sans" transform="translate(351.5 0) scale(0.9 1) translate(-351.5 0)">13</text>
<polygon points="369.5,336.7 369.5,339.09999999999997 372,337.9" stroke="#c07888" stroke-width="0.6" fill="#c07888"/>
<line x1="446.8" y1="15.6" x2="446.8" y2="43.2" stroke="#c07888" stroke-width="1.05"/>
<polygon points="445.6,18.1 448.0,18.1 446.8,15.6" stroke="#c07888" stroke-width="0.6" fill="#c07888"/>
<rect x="442" y="43.2" width="10" height="15.3" stroke="#d020d0" stroke-width="1" fill="none"/>
<path d="M444 47.2 h3 M449 51.2 h3 M444 55 h3" stroke="#d020d0" stroke-width="0.7"/>
<line x1="446.8" y1="58.5" x2="446.8" y2="67" stroke="#c07888" stroke-width="1"/>
<circle cx="454.2" cy="70.4" r="7.0" stroke="#d020d0" stroke-width="1" fill="none"/>
<line x1="454.2" y1="71" x2="454.2" y2="103.1" stroke="#c07888" stroke-width="1"/>
<rect x="449.4" y="86.3" width="9.3" height="6.4" stroke="#d020d0" stroke-width="1" fill="none"/>
<line x1="450" y1="92.2" x2="458.2" y2="86.8" stroke="#d020d0" stroke-width="0.8"/>
<line x1="458.7" y1="89.6" x2="463.2" y2="89.6" stroke="#d020d0" stroke-width="0.8"/>
<circle cx="466.9" cy="89.8" r="3.6" stroke="#d020d0" stroke-width="0.8" fill="#e488e4"/>
<text x="466.9" y="91.5" font-size="4.6" fill="#a010a0" text-anchor="middle" font-family="Liberation Sans">M</text>
<rect x="437.8" y="103.5" width="32.599999999999966" height="63.3" stroke="#d020d0" stroke-width="1" fill="none"/>
<line x1="437.8" y1="111.3" x2="470.4" y2="111.3" stroke="#d020d0" stroke-width="1"/>
<line x1="441.1" y1="111.3" x2="441.1" y2="146.3" stroke="#c07888" stroke-width="0.85"/>
<line x1="445.6" y1="111.3" x2="445.6" y2="146.3" stroke="#c07888" stroke-width="0.85"/>
<line x1="441.1" y1="146.3" x2="445.6" y2="146.3" stroke="#c07888" stroke-width="0.85"/>
<line x1="448.6" y1="111.3" x2="448.6" y2="146.3" stroke="#c07888" stroke-width="0.85"/>
<line x1="453.1" y1="111.3" x2="453.1" y2="146.3" stroke="#c07888" stroke-width="0.85"/>
<line x1="448.6" y1="146.3" x2="453.1" y2="146.3" stroke="#c07888" stroke-width="0.85"/>
<line x1="455.4" y1="111.3" x2="455.4" y2="146.3" stroke="#c07888" stroke-width="0.85"/>
<line x1="459.9" y1="111.3" x2="459.9" y2="146.3" stroke="#c07888" stroke-width="0.85"/>
<line x1="455.4" y1="146.3" x2="459.9" y2="146.3" stroke="#c07888" stroke-width="0.85"/>
<line x1="463.4" y1="111.3" x2="463.4" y2="146.3" stroke="#c07888" stroke-width="0.85"/>
<line x1="467.9" y1="111.3" x2="467.9" y2="146.3" stroke="#c07888" stroke-width="0.85"/>
<line x1="463.4" y1="146.3" x2="467.9" y2="146.3" stroke="#c07888" stroke-width="0.85"/>
<rect x="437.8" y="166.8" width="32.599999999999966" height="5.2" stroke="#d020d0" stroke-width="1" fill="none"/>
<path d="M439.0 171.6 v-0.8 a1.5 1.5 0 0 1 3 0 v0.8 M442.5 171.6 v-0.8 a1.5 1.5 0 0 1 3 0 v0.8 M446.0 171.6 v-0.8 a1.5 1.5 0 0 1 3 0 v0.8 M449.5 171.6 v-0.8 a1.5 1.5 0 0 1 3 0 v0.8 M453.0 171.6 v-0.8 a1.5 1.5 0 0 1 3 0 v0.8 M456.5 171.6 v-0.8 a1.5 1.5 0 0 1 3 0 v0.8 M460.0 171.6 v-0.8 a1.5 1.5 0 0 1 3 0 v0.8 M463.5 171.6 v-0.8 a1.5 1.5 0 0 1 3 0 v0.8 M467.0 171.6 v-0.8 a1.5 1.5 0 0 1 3 0 v0.8 " stroke="#d020d0" stroke-width="0.6" fill="none"/>
<rect x="472.7" y="167.9" width="8.3" height="13.9" stroke="#d020d0" stroke-width="0.9" fill="none"/>
<line x1="472.7" y1="172.5" x2="481" y2="172.5" stroke="#d020d0" stroke-width="0.8"/>
<circle cx="476.9" cy="177.2" r="3.6" stroke="#d020d0" stroke-width="0.8" fill="none"/>
<line x1="474.308" y1="174.60799999999998" x2="479.49199999999996" y2="179.792" stroke="#d020d0" stroke-width="0.55"/>
<line x1="474.308" y1="179.792" x2="479.49199999999996" y2="174.60799999999998" stroke="#d020d0" stroke-width="0.55"/>
<rect x="423.40" y="46.40" width="17" height="10" rx="4.8" ry="4.8" stroke="#60d060" stroke-width="1.1" fill="none"/>
<text x="431.9" y="53.70" font-size="6.4" fill="#a018b0" stroke="#a018b0" stroke-width="0.14" text-anchor="middle" font-family="Liberation Sans" transform="translate(431.9 0) scale(0.9 1) translate(-431.9 0)">17.2</text>
<rect x="423.40" y="65.40" width="17" height="10" rx="4.8" ry="4.8" stroke="#60d060" stroke-width="1.1" fill="none"/>
<text x="431.9" y="72.70" font-size="6.4" fill="#a018b0" stroke="#a018b0" stroke-width="0.14" text-anchor="middle" font-family="Liberation Sans" transform="translate(431.9 0) scale(0.9 1) translate(-431.9 0)">17</text>
<rect x="423.40" y="84.50" width="17" height="10" rx="4.8" ry="4.8" stroke="#60d060" stroke-width="1.1" fill="none"/>
<text x="431.9" y="91.80" font-size="6.4" fill="#a018b0" stroke="#a018b0" stroke-width="0.14" text-anchor="middle" font-family="Liberation Sans" transform="translate(431.9 0) scale(0.9 1) translate(-431.9 0)">17.1</text>
<rect x="416.70" y="140.30" width="17" height="10" rx="4.8" ry="4.8" stroke="#60d060" stroke-width="1.1" fill="none"/>
<text x="425.2" y="147.60" font-size="6.4" fill="#a018b0" stroke="#a018b0" stroke-width="0.14" text-anchor="middle" font-family="Liberation Sans" transform="translate(425.2 0) scale(0.9 1) translate(-425.2 0)">16</text>
<rect x="440.80" y="173.30" width="17" height="10" rx="4.8" ry="4.8" stroke="#60d060" stroke-width="1.1" fill="none"/>
<text x="449.3" y="180.60" font-size="6.4" fill="#a018b0" stroke="#a018b0" stroke-width="0.14" text-anchor="middle" font-family="Liberation Sans" transform="translate(449.3 0) scale(0.9 1) translate(-449.3 0)">16.1</text>
<rect x="457.70" y="181.50" width="17" height="10" rx="4.8" ry="4.8" stroke="#60d060" stroke-width="1.1" fill="none"/>
<text x="466.2" y="188.80" font-size="6.4" fill="#a018b0" stroke="#a018b0" stroke-width="0.14" text-anchor="middle" font-family="Liberation Sans" transform="translate(466.2 0) scale(0.9 1) translate(-466.2 0)">18</text>
<line x1="565.0" y1="15.6" x2="565.0" y2="43.2" stroke="#c07888" stroke-width="1.05"/>
<polygon points="563.8,18.1 566.2,18.1 565.0,15.6" stroke="#c07888" stroke-width="0.6" fill="#c07888"/>
<rect x="560.2" y="43.2" width="10" height="15.3" stroke="#d020d0" stroke-width="1" fill="none"/>
<path d="M562.2 47.2 h3 M567.2 51.2 h3 M562.2 55 h3" stroke="#d020d0" stroke-width="0.7"/>
<line x1="565.0" y1="58.5" x2="565.0" y2="67" stroke="#c07888" stroke-width="1"/>
<circle cx="572.4" cy="70.4" r="7.0" stroke="#d020d0" stroke-width="1" fill="none"/>
<line x1="572.4" y1="71" x2="572.4" y2="103.1" stroke="#c07888" stroke-width="1"/>
<rect x="567.6" y="86.3" width="9.3" height="6.4" stroke="#d020d0" stroke-width="1" fill="none"/>
<line x1="568.2" y1="92.2" x2="576.4" y2="86.8" stroke="#d020d0" stroke-width="0.8"/>
<line x1="576.9" y1="89.6" x2="581.4" y2="89.6" stroke="#d020d0" stroke-width="0.8"/>
<circle cx="585.1" cy="89.8" r="3.6" stroke="#d020d0" stroke-width="0.8" fill="#e488e4"/>
<text x="585.1" y="91.5" font-size="4.6" fill="#a010a0" text-anchor="middle" font-family="Liberation Sans">M</text>
<rect x="556.4" y="103.5" width="31.899999999999977" height="63.3" stroke="#d020d0" stroke-width="1" fill="none"/>
<line x1="556.4" y1="111.3" x2="588.3" y2="111.3" stroke="#d020d0" stroke-width="1"/>
<line x1="560.1" y1="111.3" x2="560.1" y2="146.3" stroke="#c07888" stroke-width="0.85"/>
<line x1="564.6" y1="111.3" x2="564.6" y2="146.3" stroke="#c07888" stroke-width="0.85"/>
<line x1="560.1" y1="146.3" x2="564.6" y2="146.3" stroke="#c07888" stroke-width="0.85"/>
<line x1="567.1" y1="111.3" x2="567.1" y2="146.3" stroke="#c07888" stroke-width="0.85"/>
<line x1="571.6" y1="111.3" x2="571.6" y2="146.3" stroke="#c07888" stroke-width="0.85"/>
<line x1="567.1" y1="146.3" x2="571.6" y2="146.3" stroke="#c07888" stroke-width="0.85"/>
<line x1="574.3" y1="111.3" x2="574.3" y2="146.3" stroke="#c07888" stroke-width="0.85"/>
<line x1="578.8" y1="111.3" x2="578.8" y2="146.3" stroke="#c07888" stroke-width="0.85"/>
<line x1="574.3" y1="146.3" x2="578.8" y2="146.3" stroke="#c07888" stroke-width="0.85"/>
<line x1="581.8" y1="111.3" x2="581.8" y2="146.3" stroke="#c07888" stroke-width="0.85"/>
<line x1="586.3" y1="111.3" x2="586.3" y2="146.3" stroke="#c07888" stroke-width="0.85"/>
<line x1="581.8" y1="146.3" x2="586.3" y2="146.3" stroke="#c07888" stroke-width="0.85"/>
<rect x="556.4" y="166.8" width="31.899999999999977" height="5.2" stroke="#d020d0" stroke-width="1" fill="none"/>
<path d="M557.6 171.6 v-0.8 a1.5 1.5 0 0 1 3 0 v0.8 M561.1 171.6 v-0.8 a1.5 1.5 0 0 1 3 0 v0.8 M564.6 171.6 v-0.8 a1.5 1.5 0 0 1 3 0 v0.8 M568.1 171.6 v-0.8 a1.5 1.5 0 0 1 3 0 v0.8 M571.6 171.6 v-0.8 a1.5 1.5 0 0 1 3 0 v0.8 M575.1 171.6 v-0.8 a1.5 1.5 0 0 1 3 0 v0.8 M578.6 171.6 v-0.8 a1.5 1.5 0 0 1 3 0 v0.8 M582.1 171.6 v-0.8 a1.5 1.5 0 0 1 3 0 v0.8 M585.6 171.6 v-0.8 a1.5 1.5 0 0 1 3 0 v0.8 " stroke="#d020d0" stroke-width="0.6" fill="none"/>
<rect x="590.9" y="167.9" width="8.3" height="13.9" stroke="#d020d0" stroke-width="0.9" fill="none"/>
<line x1="590.9" y1="172.5" x2="599.2" y2="172.5" stroke="#d020d0" stroke-width="0.8"/>
<circle cx="595.1" cy="177.2" r="3.6" stroke="#d020d0" stroke-width="0.8" fill="none"/>
<line x1="592.508" y1="174.60799999999998" x2="597.692" y2="179.792" stroke="#d020d0" stroke-width="0.55"/>
<line x1="592.508" y1="179.792" x2="597.692" y2="174.60799999999998" stroke="#d020d0" stroke-width="0.55"/>
<rect x="541.60" y="46.40" width="17" height="10" rx="4.8" ry="4.8" stroke="#60d060" stroke-width="1.1" fill="none"/>
<text x="550.1" y="53.70" font-size="6.4" fill="#a018b0" stroke="#a018b0" stroke-width="0.14" text-anchor="middle" font-family="Liberation Sans" transform="translate(550.1 0) scale(0.9 1) translate(-550.1 0)">17.2</text>
<rect x="541.60" y="65.40" width="17" height="10" rx="4.8" ry="4.8" stroke="#60d060" stroke-width="1.1" fill="none"/>
<text x="550.1" y="72.70" font-size="6.4" fill="#a018b0" stroke="#a018b0" stroke-width="0.14" text-anchor="middle" font-family="Liberation Sans" transform="translate(550.1 0) scale(0.9 1) translate(-550.1 0)">17</text>
<rect x="541.60" y="84.50" width="17" height="10" rx="4.8" ry="4.8" stroke="#60d060" stroke-width="1.1" fill="none"/>
<text x="550.1" y="91.80" font-size="6.4" fill="#a018b0" stroke="#a018b0" stroke-width="0.14" text-anchor="middle" font-family="Liberation Sans" transform="translate(550.1 0) scale(0.9 1) translate(-550.1 0)">17.1</text>
<rect x="534.90" y="140.30" width="17" height="10" rx="4.8" ry="4.8" stroke="#60d060" stroke-width="1.1" fill="none"/>
<text x="543.4" y="147.60" font-size="6.4" fill="#a018b0" stroke="#a018b0" stroke-width="0.14" text-anchor="middle" font-family="Liberation Sans" transform="translate(543.4 0) scale(0.9 1) translate(-543.4 0)">16</text>
<rect x="560.10" y="173.30" width="17" height="10" rx="4.8" ry="4.8" stroke="#60d060" stroke-width="1.1" fill="none"/>
<text x="568.6" y="180.60" font-size="6.4" fill="#a018b0" stroke="#a018b0" stroke-width="0.14" text-anchor="middle" font-family="Liberation Sans" transform="translate(568.6 0) scale(0.9 1) translate(-568.6 0)">16.1</text>
<rect x="576.50" y="183.00" width="17" height="10" rx="4.8" ry="4.8" stroke="#60d060" stroke-width="1.1" fill="none"/>
<text x="585" y="190.30" font-size="6.4" fill="#a018b0" stroke="#a018b0" stroke-width="0.14" text-anchor="middle" font-family="Liberation Sans" transform="translate(585 0) scale(0.9 1) translate(-585 0)">18</text>
<polyline points="477.6,181.8 477.6,205 492.6,223.3 492.6,237" stroke="#c07888" stroke-width="1" fill="none"/>
<circle cx="489.2" cy="193.6" r="4" stroke="#d020d0" stroke-width="0.9" fill="none"/>
<text x="489.2" y="195.70" font-size="6" fill="#d020d0" stroke="#d020d0" stroke-width="0.2" text-anchor="middle" font-family="Liberation Sans">P</text>
<line x1="485.2" y1="193.6" x2="477.8" y2="193.6" stroke="#d020d0" stroke-width="0.8"/>
<line x1="477.8" y1="192.1" x2="477.8" y2="195.1" stroke="#d020d0" stroke-width="0.8"/>
<polyline points="595.7,181.3 595.7,204 612.9,225.8 612.9,240" stroke="#c07888" stroke-width="1" fill="none"/>
<circle cx="606.5" cy="195" r="4.3" stroke="#d020d0" stroke-width="0.9" fill="none"/>
<text x="606.5" y="197.10" font-size="6" fill="#d020d0" stroke="#d020d0" stroke-width="0.2" text-anchor="middle" font-family="Liberation Sans">P</text>
<line x1="602.2" y1="195" x2="596.2" y2="195" stroke="#d020d0" stroke-width="0.8"/>
<line x1="596.2" y1="193.5" x2="596.2" y2="196.5" stroke="#d020d0" stroke-width="0.8"/>
<line x1="497.9" y1="162.6" x2="497.9" y2="242.7" stroke="#d020d0" stroke-width="1"/>
<line x1="505.6" y1="162.6" x2="505.6" y2="242.7" stroke="#d020d0" stroke-width="1"/>
<circle cx="501.75" cy="162.6" r="3.8" stroke="#d020d0" stroke-width="1" fill="none"/>
<circle cx="501.75" cy="242.7" r="3.8" stroke="#d020d0" stroke-width="1" fill="none"/>
<line x1="501.75" y1="144.3" x2="501.75" y2="156" stroke="#c07888" stroke-width="1"/>
<path d="M500.15 156.2 l3.3 -3.3" stroke="#d020d0" stroke-width="1.8"/>
<polygon points="505.6,163.7 511.6,171.8 505.6,171.8" stroke="#d020d0" stroke-width="0.9" fill="none"/>
<polygon points="489.6,236 497.9,236 497.9,240" stroke="#d020d0" stroke-width="0.8" fill="none"/>
<line x1="617" y1="162.6" x2="617" y2="242.7" stroke="#d020d0" stroke-width="1"/>
<line x1="625.5" y1="162.6" x2="625.5" y2="242.7" stroke="#d020d0" stroke-width="1"/>
<circle cx="621.25" cy="162.6" r="3.8" stroke="#d020d0" stroke-width="1" fill="none"/>
<circle cx="621.25" cy="242.7" r="3.8" stroke="#d020d0" stroke-width="1" fill="none"/>
<line x1="621.25" y1="144.3" x2="621.25" y2="156" stroke="#c07888" stroke-width="1"/>
<path d="M619.65 156.2 l3.3 -3.3" stroke="#d020d0" stroke-width="1.8"/>
<polygon points="625.5,163.7 631.5,171.8 625.5,171.8" stroke="#d020d0" stroke-width="0.9" fill="none"/>
<polygon points="609.9,236 617,236 617,240" stroke="#d020d0" stroke-width="0.8" fill="none"/>
<polyline points="508,171.8 508,177.5 536.1,184.3 536.1,199.2" stroke="#c07888" stroke-width="1" fill="none"/>
<polyline points="627.8,171.8 627.8,180 655.2,187 655.2,200.6" stroke="#c07888" stroke-width="1" fill="none"/>
<rect x="492.50" y="251.00" width="17" height="10" rx="4.8" ry="4.8" stroke="#60d060" stroke-width="1.1" fill="none"/>
<text x="501" y="258.30" font-size="6.4" fill="#a018b0" stroke="#a018b0" stroke-width="0.14" text-anchor="middle" font-family="Liberation Sans" transform="translate(501 0) scale(0.9 1) translate(-501 0)">20</text>
<rect x="612.90" y="250.80" width="17" height="10" rx="4.8" ry="4.8" stroke="#60d060" stroke-width="1.1" fill="none"/>
<text x="621.4" y="258.10" font-size="6.4" fill="#a018b0" stroke="#a018b0" stroke-width="0.14" text-anchor="middle" font-family="Liberation Sans" transform="translate(621.4 0) scale(0.9 1) translate(-621.4 0)">20</text>
<rect x="520.6" y="199.6" width="33.60000000000002" height="48.400000000000006" stroke="#d020d0" stroke-width="1" fill="none"/>
<polyline points="520.6,248 533.0,274.2 541.4000000000001,274.2 554.2,248" stroke="#d020d0" stroke-width="1" fill="none"/>
<path d="M548.2 208.1 L551.2 207.1" stroke="#d020d0" stroke-width="1.9" stroke-linecap="round"/>
<path d="M551.2 207.1 H554.2 M554.2 204.9 V209.3" stroke="#d020d0" stroke-width="0.7" fill="none"/>
<path d="M541.2 258.1 L544.2 257.1" stroke="#d020d0" stroke-width="1.9" stroke-linecap="round"/>
<path d="M544.2 257.1 H547.2 M547.2 254.9 V259.3" stroke="#d020d0" stroke-width="0.7" fill="none"/>
<polyline points="525.8000000000001,270 528.3000000000001,266.3 530.8000000000001,270" stroke="#d020d0" stroke-width="0.9" fill="none"/>
<circle cx="528.3000000000001" cy="268.6" r="1.2" stroke="#d020d0" stroke-width="0.6" fill="none"/>
<line x1="525.5000000000001" y1="270" x2="531.1" y2="270" stroke="#d020d0" stroke-width="0.8"/>
<polyline points="544.0,270 546.5,266.3 549.0,270" stroke="#d020d0" stroke-width="0.9" fill="none"/>
<circle cx="546.5" cy="268.6" r="1.2" stroke="#d020d0" stroke-width="0.6" fill="none"/>
<line x1="543.7" y1="270" x2="549.3" y2="270" stroke="#d020d0" stroke-width="0.8"/>
<rect x="533.0" y="274.2" width="8.4" height="10.3" stroke="#d020d0" stroke-width="0.9" fill="none"/>
<path d="M533.0 274.2 l8.4 3.2 M541.4000000000001 274.2 l-8.4 3.2" stroke="#d020d0" stroke-width="0.6"/>
<circle cx="537.2" cy="281" r="3.3" stroke="#d020d0" stroke-width="0.8" fill="none"/>
<line x1="534.8240000000001" y1="278.624" x2="539.576" y2="283.376" stroke="#d020d0" stroke-width="0.55"/>
<line x1="534.8240000000001" y1="283.376" x2="539.576" y2="278.624" stroke="#d020d0" stroke-width="0.55"/>
<line x1="537.2" y1="283.5" x2="537.2" y2="300" stroke="#c07888" stroke-width="1"/>
<polygon points="525.6,300.6 548.6,300.6 543.8000000000001,323.6 530.8000000000001,323.6" stroke="#d020d0" stroke-width="1" fill="none"/>
<path d="M540.8000000000001 307.1 L543.8000000000001 306.1" stroke="#d020d0" stroke-width="1.9" stroke-linecap="round"/>
<path d="M543.8000000000001 306.1 H546.8000000000001 M546.8000000000001 303.9 V308.3" stroke="#d020d0" stroke-width="0.7" fill="none"/>
<path d="M538.4000000000001 319.1 L541.4000000000001 318.1" stroke="#d020d0" stroke-width="1.9" stroke-linecap="round"/>
<path d="M541.4000000000001 318.1 H544.4000000000001 M544.4000000000001 315.9 V320.3" stroke="#d020d0" stroke-width="0.7" fill="none"/>
<rect x="528.6" y="323.6" width="17.4" height="21.8" stroke="#d020d0" stroke-width="1" fill="none"/>
<path d="M535.2 334 l2 2.5 l2 -2.5 M537.2 336.5 v3.5" stroke="#d020d0" stroke-width="0.9" fill="none"/>
<line x1="537.2" y1="327.5" x2="537.2" y2="328.8" stroke="#d020d0" stroke-width="0.8"/>
<line x1="504.6" y1="302" x2="522.2" y2="320.4" stroke="#c07888" stroke-width="1.05"/>
<circle cx="524.2" cy="322" r="1.6" stroke="#d020d0" stroke-width="0.8" fill="none"/>
<path d="M520.7 318.5 l1.5 3" stroke="#d020d0" stroke-width="1.6"/>
<rect x="639" y="200.8" width="32.89999999999998" height="47.19999999999999" stroke="#d020d0" stroke-width="1" fill="none"/>
<polyline points="639,248 651.0999999999999,274.2 659.5,274.2 671.9,248" stroke="#d020d0" stroke-width="1" fill="none"/>
<path d="M665.9 208.1 L668.9 207.1" stroke="#d020d0" stroke-width="1.9" stroke-linecap="round"/>
<path d="M668.9 207.1 H671.9 M671.9 204.9 V209.3" stroke="#d020d0" stroke-width="0.7" fill="none"/>
<path d="M658.9 258.1 L661.9 257.1" stroke="#d020d0" stroke-width="1.9" stroke-linecap="round"/>
<path d="M661.9 257.1 H664.9 M664.9 254.9 V259.3" stroke="#d020d0" stroke-width="0.7" fill="none"/>
<polyline points="644.2,270 646.7,266.3 649.2,270" stroke="#d020d0" stroke-width="0.9" fill="none"/>
<circle cx="646.7" cy="268.6" r="1.2" stroke="#d020d0" stroke-width="0.6" fill="none"/>
<line x1="643.9000000000001" y1="270" x2="649.5" y2="270" stroke="#d020d0" stroke-width="0.8"/>
<polyline points="661.6999999999999,270 664.1999999999999,266.3 666.6999999999999,270" stroke="#d020d0" stroke-width="0.9" fill="none"/>
<circle cx="664.1999999999999" cy="268.6" r="1.2" stroke="#d020d0" stroke-width="0.6" fill="none"/>
<line x1="661.4" y1="270" x2="666.9999999999999" y2="270" stroke="#d020d0" stroke-width="0.8"/>
<rect x="651.0999999999999" y="274.2" width="8.4" height="10.3" stroke="#d020d0" stroke-width="0.9" fill="none"/>
<path d="M651.0999999999999 274.2 l8.4 3.2 M659.5 274.2 l-8.4 3.2" stroke="#d020d0" stroke-width="0.6"/>
<circle cx="655.3" cy="281" r="3.3" stroke="#d020d0" stroke-width="0.8" fill="none"/>
<line x1="652.924" y1="278.624" x2="657.6759999999999" y2="283.376" stroke="#d020d0" stroke-width="0.55"/>
<line x1="652.924" y1="283.376" x2="657.6759999999999" y2="278.624" stroke="#d020d0" stroke-width="0.55"/>
<line x1="655.3" y1="283.5" x2="655.3" y2="300" stroke="#c07888" stroke-width="1"/>
<polygon points="643.6999999999999,300.6 666.6999999999999,300.6 661.9,323.6 648.9,323.6" stroke="#d020d0" stroke-width="1" fill="none"/>
<path d="M658.9 307.1 L661.9 306.1" stroke="#d020d0" stroke-width="1.9" stroke-linecap="round"/>
<path d="M661.9 306.1 H664.9 M664.9 303.9 V308.3" stroke="#d020d0" stroke-width="0.7" fill="none"/>
<path d="M656.5 319.1 L659.5 318.1" stroke="#d020d0" stroke-width="1.9" stroke-linecap="round"/>
<path d="M659.5 318.1 H662.5 M662.5 315.9 V320.3" stroke="#d020d0" stroke-width="0.7" fill="none"/>
<rect x="646.6999999999999" y="323.6" width="17.4" height="21.8" stroke="#d020d0" stroke-width="1" fill="none"/>
<path d="M653.3 334 l2 2.5 l2 -2.5 M655.3 336.5 v3.5" stroke="#d020d0" stroke-width="0.9" fill="none"/>
<line x1="655.3" y1="327.5" x2="655.3" y2="328.8" stroke="#d020d0" stroke-width="0.8"/>
<line x1="622.6999999999999" y1="302" x2="640.3" y2="320.4" stroke="#c07888" stroke-width="1.05"/>
<circle cx="642.3" cy="322" r="1.6" stroke="#d020d0" stroke-width="0.8" fill="none"/>
<path d="M638.8 318.5 l1.5 3" stroke="#d020d0" stroke-width="1.6"/>
<rect x="527.00" y="223.00" width="17" height="10" rx="4.8" ry="4.8" stroke="#60d060" stroke-width="1.1" fill="none"/>
<text x="535.5" y="230.30" font-size="6.4" fill="#a018b0" stroke="#a018b0" stroke-width="0.14" text-anchor="middle" font-family="Liberation Sans" transform="translate(535.5 0) scale(0.9 1) translate(-535.5 0)">21</text>
<rect x="551.70" y="253.10" width="17" height="10" rx="4.8" ry="4.8" stroke="#60d060" stroke-width="1.1" fill="none"/>
<text x="560.2" y="260.40" font-size="6.4" fill="#a018b0" stroke="#a018b0" stroke-width="0.14" text-anchor="middle" font-family="Liberation Sans" transform="translate(560.2 0) scale(0.9 1) translate(-560.2 0)">21.1</text>
<rect x="508.40" y="257.80" width="17" height="10" rx="4.8" ry="4.8" stroke="#60d060" stroke-width="1.1" fill="none"/>
<text x="516.9" y="265.10" font-size="6.4" fill="#a018b0" stroke="#a018b0" stroke-width="0.14" text-anchor="middle" font-family="Liberation Sans" transform="translate(516.9 0) scale(0.9 1) translate(-516.9 0)">21.3</text>
<rect x="547.40" y="269.80" width="17" height="10" rx="4.8" ry="4.8" stroke="#60d060" stroke-width="1.1" fill="none"/>
<text x="555.9" y="277.10" font-size="6.4" fill="#a018b0" stroke="#a018b0" stroke-width="0.14" text-anchor="middle" font-family="Liberation Sans" transform="translate(555.9 0) scale(0.9 1) translate(-555.9 0)">21.2</text>
<rect x="512.50" y="275.70" width="17" height="10" rx="4.8" ry="4.8" stroke="#60d060" stroke-width="1.1" fill="none"/>
<text x="521" y="283.00" font-size="6.4" fill="#a018b0" stroke="#a018b0" stroke-width="0.14" text-anchor="middle" font-family="Liberation Sans" transform="translate(521 0) scale(0.9 1) translate(-521 0)">22</text>
<rect x="549.50" y="301.30" width="17" height="10" rx="4.8" ry="4.8" stroke="#60d060" stroke-width="1.1" fill="none"/>
<text x="558" y="308.60" font-size="6.4" fill="#a018b0" stroke="#a018b0" stroke-width="0.14" text-anchor="middle" font-family="Liberation Sans" transform="translate(558 0) scale(0.9 1) translate(-558 0)">23.1</text>
<rect x="550.60" y="312.20" width="17" height="10" rx="4.8" ry="4.8" stroke="#60d060" stroke-width="1.1" fill="none"/>
<text x="559.1" y="319.50" font-size="6.4" fill="#a018b0" stroke="#a018b0" stroke-width="0.14" text-anchor="middle" font-family="Liberation Sans" transform="translate(559.1 0) scale(0.9 1) translate(-559.1 0)">23</text>
<rect x="528.90" y="348.00" width="17" height="10" rx="4.8" ry="4.8" stroke="#60d060" stroke-width="1.1" fill="none"/>
<text x="537.4" y="355.30" font-size="6.4" fill="#a018b0" stroke="#a018b0" stroke-width="0.14" text-anchor="middle" font-family="Liberation Sans" transform="translate(537.4 0) scale(0.9 1) translate(-537.4 0)">24</text>
<rect x="645.50" y="224.00" width="17" height="10" rx="4.8" ry="4.8" stroke="#60d060" stroke-width="1.1" fill="none"/>
<text x="654" y="231.30" font-size="6.4" fill="#a018b0" stroke="#a018b0" stroke-width="0.14" text-anchor="middle" font-family="Liberation Sans" transform="translate(654 0) scale(0.9 1) translate(-654 0)">21</text>
<rect x="630.10" y="276.00" width="17" height="10" rx="4.8" ry="4.8" stroke="#60d060" stroke-width="1.1" fill="none"/>
<text x="638.6" y="283.30" font-size="6.4" fill="#a018b0" stroke="#a018b0" stroke-width="0.14" text-anchor="middle" font-family="Liberation Sans" transform="translate(638.6 0) scale(0.9 1) translate(-638.6 0)">22</text>
<rect x="668.70" y="312.60" width="17" height="10" rx="4.8" ry="4.8" stroke="#60d060" stroke-width="1.1" fill="none"/>
<text x="677.2" y="319.90" font-size="6.4" fill="#a018b0" stroke="#a018b0" stroke-width="0.14" text-anchor="middle" font-family="Liberation Sans" transform="translate(677.2 0) scale(0.9 1) translate(-677.2 0)">23</text>
<rect x="646.50" y="348.80" width="17" height="10" rx="4.8" ry="4.8" stroke="#60d060" stroke-width="1.1" fill="none"/>
<text x="655" y="356.10" font-size="6.4" fill="#a018b0" stroke="#a018b0" stroke-width="0.14" text-anchor="middle" font-family="Liberation Sans" transform="translate(655 0) scale(0.9 1) translate(-655 0)">24</text>
<line x1="464.3" y1="393.7" x2="690" y2="393.7" stroke="#8c8c8c" stroke-width="1.2"/>
<line x1="464.3" y1="393.7" x2="464.3" y2="431" stroke="#8c8c8c" stroke-width="1.2"/>
<line x1="464.3" y1="431" x2="690" y2="431" stroke="#a0a0a0" stroke-width="0.9"/>
<line x1="491.3" y1="393.7" x2="491.3" y2="430" stroke="#4444c4" stroke-width="0.9"/>
<line x1="518.3" y1="393.7" x2="518.3" y2="411" stroke="#4444c4" stroke-width="0.9"/>
<line x1="607.4" y1="393.7" x2="607.4" y2="430" stroke="#4444c4" stroke-width="0.9"/>
<line x1="634.3" y1="393.7" x2="634.3" y2="411" stroke="#4444c4" stroke-width="0.9"/>
<line x1="464.3" y1="411.1" x2="690" y2="411.1" stroke="#4444c4" stroke-width="0.9"/>
<line x1="647.4" y1="411.1" x2="647.4" y2="430" stroke="#4444c4" stroke-width="0.9"/>
<line x1="607.4" y1="422.4" x2="690" y2="422.4" stroke="#4444c4" stroke-width="0.9"/>
<text x="466.8" y="398.9" font-size="3.6" fill="#28c828" stroke="#28c828" stroke-width="0.3" font-family="Liberation Sans" textLength="9.6" lengthAdjust="spacingAndGlyphs">Datum</text>
<text x="492.7" y="398.9" font-size="3.6" fill="#28c828" stroke="#28c828" stroke-width="0.3" font-family="Liberation Sans" textLength="8" lengthAdjust="spacingAndGlyphs">Name</text>
<text x="519.8" y="398.9" font-size="3.6" fill="#28c828" stroke="#28c828" stroke-width="0.3" font-family="Liberation Sans" textLength="11.5" lengthAdjust="spacingAndGlyphs">Entwurf</text>
<text x="608.6" y="398.9" font-size="3.6" fill="#28c828" stroke="#28c828" stroke-width="0.3" font-family="Liberation Sans" textLength="11.8" lengthAdjust="spacingAndGlyphs">Maßstab</text>
<text x="492.7" y="414.5" font-size="3.6" fill="#28c828" stroke="#28c828" stroke-width="0.3" font-family="Liberation Sans" textLength="15.5" lengthAdjust="spacingAndGlyphs">Benennung</text>
<text x="609" y="414.5" font-size="3.6" fill="#28c828" stroke="#28c828" stroke-width="0.3" font-family="Liberation Sans" textLength="8" lengthAdjust="spacingAndGlyphs">Zeichnr</text>
<text x="649" y="414.5" font-size="3.6" fill="#28c828" stroke="#28c828" stroke-width="0.3" font-family="Liberation Sans" textLength="12.3" lengthAdjust="spacingAndGlyphs">Werkst-nr</text>
<text x="609" y="428.6" font-size="3.6" fill="#28c828" stroke="#28c828" stroke-width="0.3" font-family="Liberation Sans" textLength="3.4" lengthAdjust="spacingAndGlyphs">Bl.</text>
<text x="626" y="428.6" font-size="3.6" fill="#28c828" stroke="#28c828" stroke-width="0.3" font-family="Liberation Sans" textLength="6.6" lengthAdjust="spacingAndGlyphs">von</text>
<text x="649" y="428.6" font-size="3.6" fill="#28c828" stroke="#28c828" stroke-width="0.3" font-family="Liberation Sans" textLength="11" lengthAdjust="spacingAndGlyphs">Format</text>
<text x="466.2" y="407.8" font-size="5.8" fill="#b818c0" stroke="#b818c0" stroke-width="0.18" font-family="Liberation Mono" textLength="23.5" lengthAdjust="spacingAndGlyphs">08-08-06</text>
<text x="492.7" y="407.8" font-size="5.8" fill="#b818c0" stroke="#b818c0" stroke-width="0.18" font-family="Liberation Mono" textLength="19.3" lengthAdjust="spacingAndGlyphs">Grodfitel</text>
<text x="519.8" y="407.8" font-size="5.8" fill="#b818c0" stroke="#b818c0" stroke-width="0.18" font-family="Liberation Mono" textLength="19.2" lengthAdjust="spacingAndGlyphs">03/3784</text>
<text x="493.6" y="421.4" font-size="5.8" fill="#b818c0" stroke="#b818c0" stroke-width="0.18" font-family="Liberation Mono" textLength="87.7" lengthAdjust="spacingAndGlyphs">PROCESSING SYSTEM FOR CaCO3</text>
<text x="500.1" y="428.8" font-size="5.8" fill="#b818c0" stroke="#b818c0" stroke-width="0.18" font-family="Liberation Mono" textLength="29" lengthAdjust="spacingAndGlyphs">50000 T/H</text>
<text x="617" y="421.4" font-size="6.2" fill="#b818c0" stroke="#b818c0" stroke-width="0.18" font-family="Liberation Mono" textLength="18.9" lengthAdjust="spacingAndGlyphs">D02.7001</text>
<text x="654" y="421.4" font-size="6.2" fill="#b818c0" stroke="#b818c0" stroke-width="0.18" font-family="Liberation Mono" textLength="28.8" lengthAdjust="spacingAndGlyphs">1060603030</text>
<text x="618.3" y="428.8" font-size="5.2" fill="#b818c0" stroke="#b818c0" stroke-width="0.18" font-family="Liberation Mono" textLength="3.2" lengthAdjust="spacingAndGlyphs">T?</text>
<text x="669" y="428.8" font-size="5.4" fill="#b818c0" stroke="#b818c0" stroke-width="0.18" font-family="Liberation Mono" textLength="5.3" lengthAdjust="spacingAndGlyphs">A4</text>
<text x="641.6" y="407.8" font-size="8.4" fill="#30c830" stroke="#208020" stroke-width="0.25" font-family="Liberation Serif" text-anchor="middle">I</text>
<text x="648.5" y="407.8" font-size="8.4" fill="#30c830" stroke="#208020" stroke-width="0.25" font-family="Liberation Serif" text-anchor="middle">V</text>
<text x="655.4" y="407.8" font-size="8.4" fill="#30c830" stroke="#208020" stroke-width="0.25" font-family="Liberation Serif" text-anchor="middle">A</text>
<path d="M662.8 400.2 q2.9 -3.8 5.8 0 z" fill="#30d030"/>
<path d="M662.6 400.2 q3 3 6.2 0 z" fill="#1c1c1c"/>
<path d="M665.5 405 q5 -4.5 10.5 -1.8 q5 -3 10.3 1.2 l0.4 2.6 h-21 z" fill="#30d030"/>
<path d="M665.3 404.8 h6.8 l-1.4 3.6 h-4.2 z M675 405.3 h7.4 l-1.2 3.2 h-5 z" fill="#1c1c1c"/>
<path d="M672.3 405 l3 3.5 h-3.3 z" fill="#30d030"/>
<path d="M470 415 L477.2 413.5 V421.7 L470 420.2 Z" stroke="#8a6a8a" stroke-width="0.9" fill="none"/>
<circle cx="484.4" cy="417.6" r="3.9" stroke="#8a6a8a" stroke-width="0.9" fill="none"/>
<circle cx="484.4" cy="417.6" r="2" stroke="#8a6a8a" stroke-width="0.8" fill="none"/>
<path d="M470.5 426.7 h18" stroke="#d020d0" stroke-width="1.6" stroke-dasharray="3,1"/>
</g>
</svg></body></html>
